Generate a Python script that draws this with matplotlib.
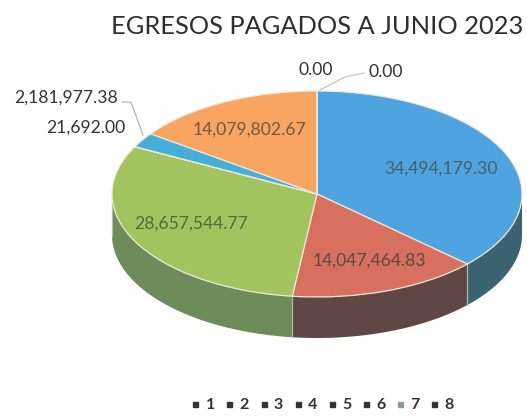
import numpy as np
import matplotlib
matplotlib.use("Agg")
import matplotlib.pyplot as plt
from matplotlib.lines import Line2D

categories = ["1", "2", "3", "4", "5", "6", "7", "8"]
values = [34494179.30, 14047464.83, 28657544.77, 21692.00, 2181977.38, 14079802.67, 0.00, 0.00]
top_colors = ["#4fa3de", "#d8705f", "#a2c45e", "#8064a2", "#45afd8", "#f7a560", "#9db9c8", "#5f7530"]
wall_colors = ["#3b6470", "#5f4843", "#6d8c5a", "#4d3c60", "#2c6c84", "#94633a", "#5e6f78", "#39461d"]
legend_colors = ["#333333", "#333333", "#333333", "#333333", "#333333", "#333333", "#8a9aa5", "#333333"]
title = "EGRESOS PAGADOS A JUNIO 2023"

W, H = 527, 417
CX, CY, RX, RY = 317, 194, 205, 103
DEPTH = 41 / RY

fig = plt.figure(figsize=(W / 100, H / 100), dpi=100, facecolor="white")
ax = fig.add_axes([0, 0, 1, 1])
FONT = "Lato"
TXT = "#333333"

def dx(px):
    return (px - CX) / RX

def dy(py):
    return (CY - py) / RY

# extruded wall from the values
fractions = np.array(values) / sum(values)
edges = np.pi / 2 - 2 * np.pi * np.concatenate([[0], np.cumsum(fractions)])
for i in range(len(values)):
    t = np.linspace(edges[i], edges[i + 1], 200)
    t = t[np.sin(t) <= 0]
    if len(t) < 2:
        continue
    xs = np.cos(t)
    ys = np.sin(t)
    ax.fill(np.r_[xs, xs[::-1]], np.r_[ys, ys[::-1] - DEPTH],
            color=wall_colors[i], lw=0, zorder=1)
    ax.plot([xs[-1], xs[-1]], [ys[-1], ys[-1] - DEPTH], color="#b9b5b0", lw=0.9, zorder=1.5)

wedges, _ = ax.pie(values, colors=top_colors, startangle=90, counterclock=False, radius=1,
                   wedgeprops=dict(edgecolor="#f1e6d8", linewidth=0.9, zorder=2))
ax.set_aspect("auto")
ax.set_xlim(dx(0), dx(W))
ax.set_ylim(dy(H), dy(0))
ax.axis("off")

# title and labels
ax.text(dx(317.5), dy(26), title, ha="center", va="center", fontsize=18.3, color="#2e2e2e", family=FONT)
labels = [
    (441, 169, f"{values[0]:,.2f}", "#44606f", "center"),
    (369, 261, f"{values[1]:,.2f}", "#5a4a48", "center"),
    (191, 224, f"{values[2]:,.2f}", "#55693f", "center"),
    (125, 128, f"{values[3]:,.2f}", TXT, "right"),
    (118, 98, f"{values[4]:,.2f}", TXT, "right"),
    (250, 130, f"{values[5]:,.2f}", "#6e5a45", "center"),
    (316, 70, f"{values[6]:,.2f}", TXT, "center"),
    (386, 72, f"{values[7]:,.2f}", TXT, "center"),
]
for px, py, s, c, ha in labels:
    ax.text(dx(px), dy(py), s, ha=ha, va="center", fontsize=12.6, color=c, family=FONT, zorder=5)

# leader lines
ax.plot([dx(122), dx(131), dx(143)], [dy(102), dy(102), dy(135)], color="#b5b5b5", lw=0.9, zorder=1)
ax.plot([dx(318), dx(345), dx(364)], [dy(91), dy(77), dy(73)], color="#c4c4c4", lw=0.9, zorder=1)

handles = [Line2D([], [], linestyle="none", marker="s", markersize=3.6, color=c) for c in legend_colors]
ax.legend(handles, categories, ncol=8, loc="center", bbox_to_anchor=(322 / W, 1 - 405 / H),
          frameon=False, handlelength=0.6, handletextpad=0.35, columnspacing=0.6,
          prop=dict(family=FONT, size=11.5, weight="bold"), labelcolor=TXT)

fig.savefig("out.png", dpi=100)
